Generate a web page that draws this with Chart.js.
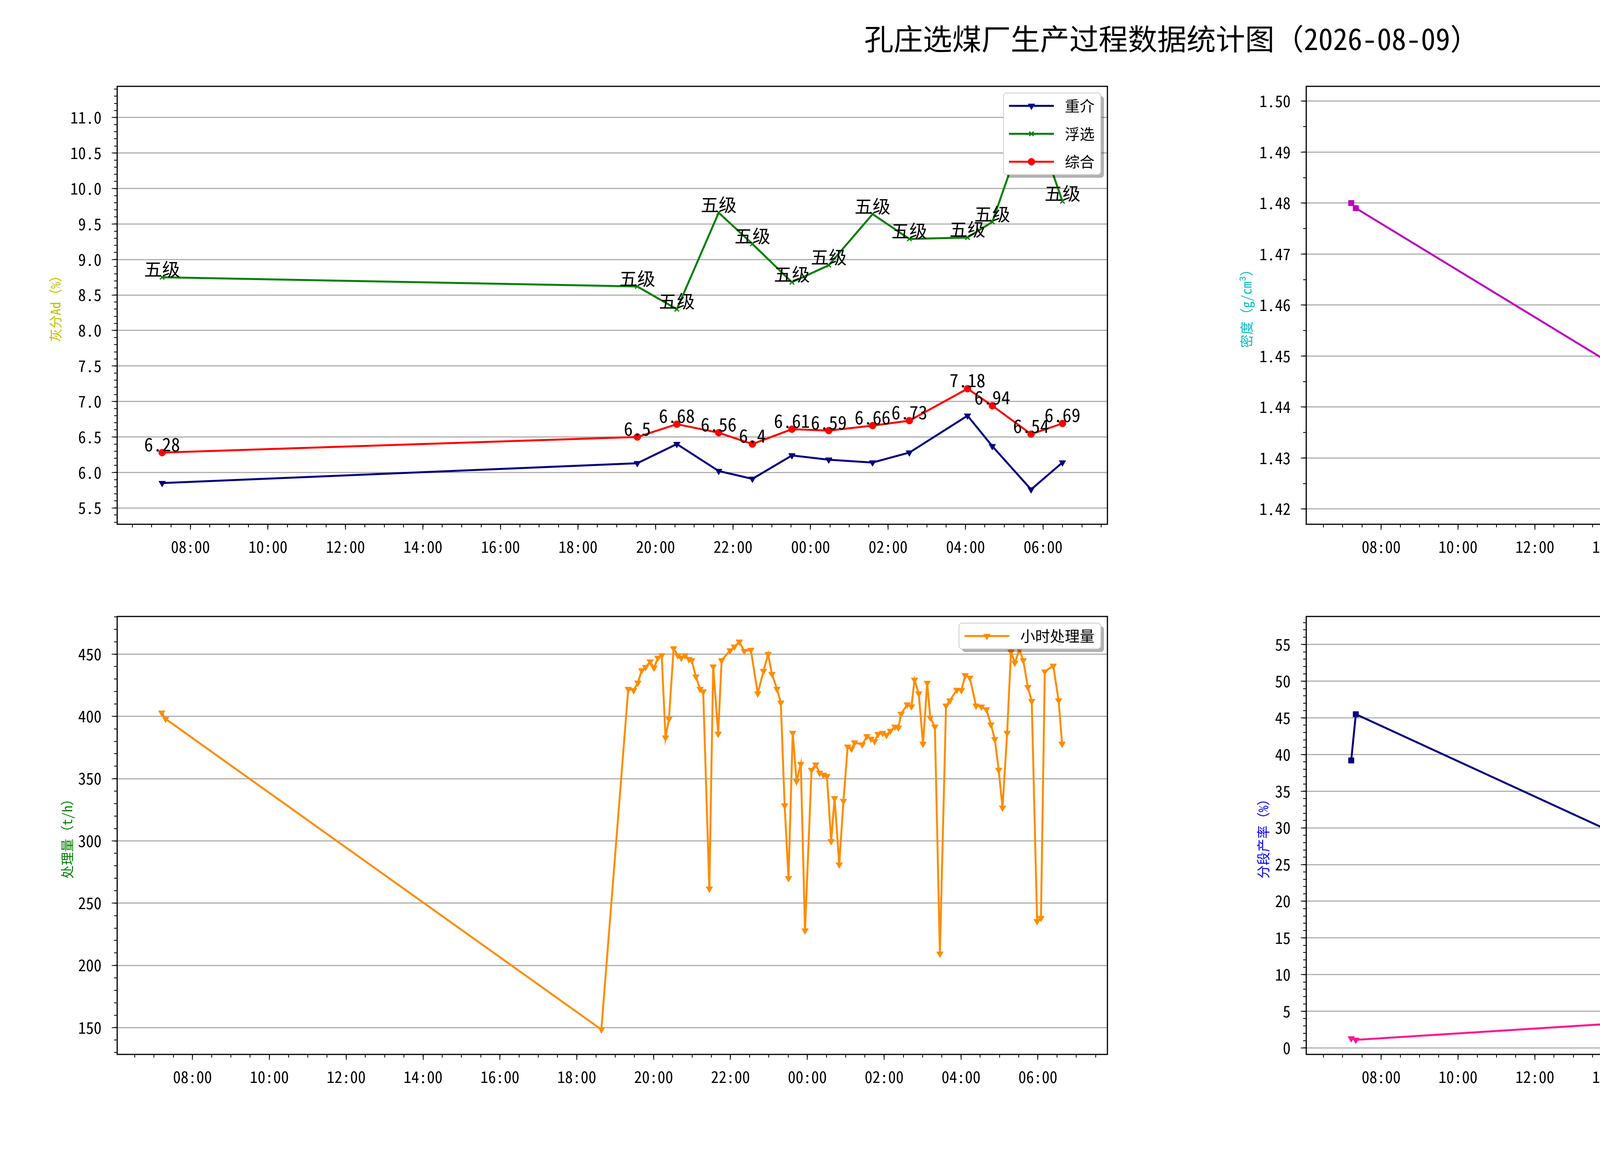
<!DOCTYPE html>
<html lang="zh-CN">
<head>
<meta charset="utf-8">
<title>孔庄选煤厂生产过程数据统计图</title>
<script src="https://cdn.jsdelivr.net/npm/chart.js@4.4.1/dist/chart.umd.min.js"></script>
<style>
  html, body { margin: 0; padding: 0; background: #fff; }
  body {
    width: 6000px; height: 3000px; position: relative; overflow: hidden;
    font-family: "Noto Sans Mono CJK SC", "Noto Sans CJK SC", "Noto Sans", sans-serif;
    color: #000;
  }
  #title { position: absolute; left: 0; top: 50px; width: 6000px; text-align: center; font-size: 75px; line-height: 92px; }
  #credit { position: absolute; right: 121px; top: 2772px; font-size: 40px; line-height: 50px; }
  canvas { position: absolute; }
</style>
</head>
<body>
<div id="title">孔庄选煤厂生产过程数据统计图（2026-08-09）</div>
<canvas id="chart-ash"></canvas>
<canvas id="chart-density"></canvas>
<canvas id="chart-throughput"></canvas>
<canvas id="chart-yield"></canvas>
<div id="credit">Designed by ZQ</div>

<script>
const FONT = '"Noto Sans Mono CJK SC", "Noto Sans CJK SC", "Noto Sans", sans-serif';

// 横轴：小时（24 以后为次日）
const hourTicks = [8, 10, 12, 14, 16, 18, 20, 22, 24, 26, 28, 30];
const hourTickLabels = ['08:00', '10:00', '12:00', '14:00', '16:00', '18:00', '20:00', '22:00', '00:00', '02:00', '04:00', '06:00'];

// 灰分 Ad(%)
const ashHours = [7.27, 19.53, 20.55, 21.63, 22.50, 23.52, 24.47, 25.60, 26.55, 28.05, 28.69, 29.69, 30.50];
const ashHeavy = [5.85, 6.13, 6.40, 6.02, 5.91, 6.24, 6.18, 6.14, 6.28, 6.80, 6.37, 5.76, 6.14];
const ashFlot  = [8.75, 8.62, 8.30, 9.66, 9.22, 8.68, 8.92, 9.64, 9.29, 9.31, 9.53, 11.10, 9.82];
const ashTotal = [6.28, 6.5, 6.68, 6.56, 6.4, 6.61, 6.59, 6.66, 6.73, 7.18, 6.94, 6.54, 6.69];
const ashGrade = ['五级', '五级', '五级', '五级', '五级', '五级', '五级', '五级', '五级', '五级', '五级', '五级', '五级'];
const ashTicks = [5.5, 6.0, 6.5, 7.0, 7.5, 8.0, 8.5, 9.0, 9.5, 10.0, 10.5, 11.0];

// 331旋流器密度
const densityHours = [
  7.22, 7.34, 18.67, 19.36, 19.51, 19.61, 19.71, 19.82, 19.92, 20.02,
  20.12, 20.22, 20.33, 20.43, 20.53, 20.63, 20.74, 20.85, 20.99, 21.12,
  21.29, 21.45, 21.57, 21.69, 21.80, 22.02, 22.14, 22.24, 22.36, 22.54,
  22.72, 22.87, 23.00, 23.10, 23.23, 23.33, 23.43, 23.53, 23.63, 23.73,
  23.83, 23.93, 24.14, 24.24, 24.37, 24.53, 24.64, 24.74, 24.83, 24.95,
  25.06, 25.16, 25.26, 25.45, 25.57, 25.67, 25.77, 25.88, 25.98, 26.08,
  26.19, 26.28, 26.38, 26.49, 26.60, 26.71, 26.81, 26.91, 27.03, 27.13,
  27.23, 27.35, 27.47, 27.63, 27.74, 27.92, 28.03, 28.12, 28.28, 28.41,
  28.55, 28.68, 28.79, 28.89, 28.99, 29.09, 29.20, 29.31, 29.42, 29.52,
  29.63, 29.75, 29.86, 29.98, 30.09, 30.20, 30.43, 30.54, 30.66
];
const densityValues = [
  1.480, 1.479, 1.427, 1.492, 1.490, 1.487, 1.490, 1.489, 1.491, 1.492,
  1.491, 1.490, 1.490, 1.488, 1.492, 1.489, 1.488, 1.491, 1.491, 1.491,
  1.488, 1.492, 1.490, 1.493, 1.490, 1.488, 1.487, 1.484, 1.490, 1.487,
  1.484, 1.489, 1.490, 1.490, 1.489, 1.489, 1.476, 1.482, 1.477, 1.480,
  1.479, 1.479, 1.479, 1.479, 1.479, 1.482, 1.480, 1.480, 1.482, 1.479,
  1.482, 1.478, 1.482, 1.480, 1.480, 1.481, 1.479, 1.482, 1.481, 1.481,
  1.479, 1.478, 1.480, 1.479, 1.479, 1.482, 1.477, 1.481, 1.482, 1.476,
  1.478, 1.482, 1.477, 1.480, 1.479, 1.477, 1.480, 1.476, 1.482, 1.477,
  1.479, 1.479, 1.477, 1.479, 1.477, 1.482, 1.482, 1.481, 1.482, 1.472,
  1.482, 1.482, 1.479, 1.477, 1.479, 1.479, 1.479, 1.481, 1.479
];
const densityTicks = [1.42, 1.43, 1.44, 1.45, 1.46, 1.47, 1.48, 1.49, 1.50];

// 小时处理量 (t/h)
const throughputHours = [
  7.20, 7.30, 18.64, 19.34, 19.48, 19.59, 19.69, 19.79, 19.91, 20.01,
  20.11, 20.21, 20.31, 20.40, 20.52, 20.63, 20.72, 20.82, 20.92, 20.99,
  21.10, 21.21, 21.29, 21.45, 21.55, 21.68, 21.77, 21.99, 22.10, 22.23,
  22.36, 22.53, 22.71, 22.86, 22.98, 23.08, 23.21, 23.31, 23.41, 23.51,
  23.62, 23.72, 23.83, 23.94, 24.11, 24.22, 24.32, 24.42, 24.51, 24.62,
  24.71, 24.83, 24.94, 25.05, 25.15, 25.23, 25.43, 25.55, 25.66, 25.75,
  25.84, 25.96, 26.06, 26.16, 26.28, 26.37, 26.44, 26.60, 26.71, 26.79,
  26.90, 27.01, 27.12, 27.20, 27.32, 27.45, 27.61, 27.71, 27.89, 28.01,
  28.11, 28.23, 28.39, 28.53, 28.66, 28.78, 28.88, 28.98, 29.08, 29.20,
  29.30, 29.40, 29.52, 29.62, 29.74, 29.84, 29.98, 30.08, 30.18, 30.40,
  30.54, 30.63
];
const throughputValues = [
  403, 398, 148.5, 422, 421, 427, 437, 439.5, 444, 439,
  447, 449, 383, 398, 454.6, 449, 447, 449, 446, 445,
  432, 422, 420, 261.6, 440, 386, 445, 453, 456, 460,
  452.5, 453.4, 418.4, 436.5, 450, 434, 422, 411, 328.4, 270,
  386.7, 348, 361.7, 228, 357, 361.3, 354.6, 353, 352, 299.7,
  334.3, 281, 332, 375.7, 374, 379, 377.4, 384, 382, 380,
  385.8, 386.7, 385, 388.3, 391.7, 391, 402, 409.5, 408, 429.4,
  418.4, 378, 426.9, 399, 391.7, 209.3, 408.6, 412.8, 421.3, 421,
  433, 431, 408.6, 407.8, 405.6, 393.4, 381.6, 357, 326.7, 386.7,
  452, 443, 454, 445, 423.5, 412.3, 235.5, 238, 436, 440.7,
  412.8, 378
];
const throughputTicks = [150, 200, 250, 300, 350, 400, 450];

// 分段产率 (%)
const yieldHours = [
  7.22, 7.34, 18.67, 19.36, 19.46, 19.59, 19.69, 19.81, 19.91, 20.00,
  20.12, 20.24, 20.32, 20.44, 20.52, 20.64, 20.73, 20.85, 20.98, 21.12,
  21.30, 21.46, 21.56, 21.69, 21.80, 22.02, 22.13, 22.25, 22.36, 22.54,
  22.73, 22.86, 23.00, 23.08, 23.22, 23.32, 23.42, 23.52, 23.64, 23.73,
  23.84, 23.95, 24.13, 24.23, 24.42, 24.54, 24.62, 24.73, 24.83, 24.95,
  25.03, 25.15, 25.25, 25.45, 25.59, 25.67, 25.78, 25.89, 25.98, 26.06,
  26.18, 26.27, 26.37, 26.47, 26.59, 26.69, 26.79, 26.91, 27.03, 27.13,
  27.20, 27.27, 27.35, 27.47, 27.61, 27.76, 27.93, 28.03, 28.11, 28.27,
  28.40, 28.54, 28.67, 28.81, 28.89, 28.99, 29.09, 29.18, 29.30, 29.42,
  29.52, 29.64, 29.76, 29.86, 29.99, 30.09, 30.20, 30.42, 30.57, 30.67
];
const yieldMiddling = [
  1.3, 1.1, 4.85, 1.4, 1.1, 1.1, 1.3, 1.5, 1.9, 2.3,
  1.7, 2.1, 2.3, 2.1, 2.1, 2.0, 2.0, 2.1, 2.2, 2.4,
  2.4, 3.5, 1.4, 1.5, 1.6, 1.5, 1.7, 2.1, 2.2, 1.8,
  1.9, 2.0, 1.8, 1.8, 1.8, 2.1, 2.6, 3.3, 1.8, 1.5,
  1.9, 3.1, 1.3, 1.3, 2.4, 3.3, 2.9, 2.3, 2.1, 1.4,
  1.3, 1.7, 1.1, 1.4, 2.3, 2.3, 2.1, 2.1, 2.1, 2.2,
  1.9, 1.9, 1.9, 2.0, 2.0, 1.7, 1.4, 1.4, 1.4, 1.5,
  1.7, 1.8, 1.7, 3.1, 1.4, 1.6, 1.7, 1.5, 1.3, 1.3,
  1.3, 1.5, 1.6, 1.5, 1.3, 1.3, 1.1, 1.1, 1.3, 1.6,
  1.7, 1.7, 2.3, 1.9, 3.2, 3.2, 1.1, 1.1, 1.3, 1.3
];
const yieldGangue = [
  39.2, 45.5, 18.2, 22.2, 22.5, 21.7, 21.8, 22.7, 22.7, 24.3,
  24.7, 26.0, 32.0, 31.3, 26.7, 27.7, 28.9, 29.3, 29.8, 32.1,
  32.9, 43.2, 23.3, 28.4, 26.8, 26.4, 25.7, 25.3, 26.3, 23.8,
  26.9, 27.0, 26.7, 29.0, 31.0, 35.2, 43.5, 42.6, 29.3, 32.6,
  30.1, 51.4, 32.9, 29.8, 31.4, 30.3, 35.5, 28.8, 35.3, 26.3,
  28.0, 29.0, 27.8, 28.4, 27.7, 26.7, 26.0, 26.2, 26.7, 27.1,
  27.5, 27.2, 27.7, 27.3, 26.8, 26.7, 24.8, 27.8, 30.3, 26.9,
  28.1, 28.0, 29.3, 56.9, 30.4, 30.1, 28.1, 27.1, 24.9, 25.3,
  24.5, 24.2, 24.2, 24.3, 24.9, 26.6, 29.8, 25.4, 25.1, 25.0,
  25.4, 25.4, 25.9, 29.8, 50.5, 40.6, 21.7, 26.8, 27.8, 29.2
];
const yieldTicks = [0, 5, 10, 15, 20, 25, 30, 35, 40, 45, 50, 55];

// 版面（像素）
const panels = {
  ash:        { left: 118,  top: 171,  plotLeft: 300,  plotRight: 2835, plotTop: 211,  plotBottom: 1342 },
  density:    { left: 3167, top: 171,  plotLeft: 3344, plotRight: 5879, plotTop: 211,  plotBottom: 1342 },
  throughput: { left: 148,  top: 1528, plotLeft: 300,  plotRight: 2835, plotTop: 1568, plotBottom: 2699 },
  yield:      { left: 3210, top: 1528, plotLeft: 3344, plotRight: 5879, plotTop: 1568, plotBottom: 2699 }
};
const PAD_RIGHT = 30;
const X_AXIS_H = 90;

const toPoints = (xs, ys) => xs.map((x, i) => ({ x: x, y: ys[i] }));

// 外框 + 次刻度
const framePlugin = {
  id: 'frame',
  afterDatasetsDraw(chart, args, opts) {
    const { ctx, chartArea: a, scales } = chart;
    const xs = scales.x, ys = scales.y;
    ctx.save();
    ctx.strokeStyle = '#000';
    ctx.lineWidth = 2;
    ctx.beginPath();
    for (let k = Math.ceil(xs.min / opts.xMinor - 1e-6); k * opts.xMinor <= xs.max + 1e-9; k++) {
      const px = Math.round(xs.getPixelForValue(k * opts.xMinor));
      ctx.moveTo(px, a.bottom);
      ctx.lineTo(px, a.bottom + 8);
    }
    for (let k = Math.ceil(ys.min / opts.yMinor - 1e-6); k * opts.yMinor <= ys.max + 1e-9; k++) {
      const py = Math.round(ys.getPixelForValue(k * opts.yMinor));
      ctx.moveTo(a.left - 8, py);
      ctx.lineTo(a.left, py);
    }
    ctx.stroke();
    ctx.lineWidth = 3;
    ctx.strokeRect(a.left, a.top, a.right - a.left, a.bottom - a.top);
    ctx.restore();
  }
};

// 数据点上方的文字
const pointTextPlugin = {
  id: 'pointText',
  afterDatasetsDraw(chart) {
    const ctx = chart.ctx;
    ctx.save();
    ctx.font = '46px ' + FONT;
    ctx.fillStyle = '#000';
    ctx.textAlign = 'center';
    ctx.textBaseline = 'bottom';
    chart.data.datasets.forEach((ds, i) => {
      if (!ds.pointTexts) return;
      chart.getDatasetMeta(i).data.forEach((pt, j) => {
        ctx.fillText(ds.pointTexts[j], pt.x, pt.y + 2);
      });
    });
    ctx.restore();
  }
};

// 右上角图例（带阴影的框）
const boxLegendPlugin = {
  id: 'boxLegend',
  afterDraw(chart) {
    const { ctx, chartArea: a } = chart;
    const sets = chart.data.datasets;
    ctx.save();
    ctx.font = '38px ' + FONT;
    const textW = Math.max(...sets.map(d => ctx.measureText(d.label).width));
    const w = 14 + 115 + 28 + textW + 16;
    const h = 66 + 71.5 * (sets.length - 1);
    const x0 = a.right - 17 - w;
    const y0 = a.top + 17;

    ctx.fillStyle = 'rgba(0, 0, 0, 0.3)';
    ctx.beginPath();
    ctx.roundRect(x0 + 8, y0 + 8, w, h, 8);
    ctx.fill();

    ctx.fillStyle = '#ffffff';
    ctx.strokeStyle = '#cccccc';
    ctx.lineWidth = 2;
    ctx.beginPath();
    ctx.roundRect(x0, y0, w, h, 8);
    ctx.fill();
    ctx.stroke();

    sets.forEach((d, i) => {
      const cy = y0 + 33 + i * 71.5;
      ctx.strokeStyle = d.borderColor;
      ctx.lineWidth = d.borderWidth;
      ctx.beginPath();
      ctx.moveTo(x0 + 14, cy);
      ctx.lineTo(x0 + 129, cy);
      ctx.stroke();

      ctx.fillStyle = d.borderColor;
      ctx.lineWidth = d.pointBorderWidth;
      Chart.helpers.drawPoint(ctx, {
        pointStyle: d.pointStyle,
        rotation: d.pointRotation || 0,
        radius: d.pointRadius,
        borderWidth: d.pointBorderWidth
      }, x0 + 71.5, cy);

      ctx.fillStyle = '#000';
      ctx.textAlign = 'left';
      ctx.textBaseline = 'middle';
      ctx.fillText(d.label, x0 + 157, cy);
    });
    ctx.restore();
  }
};

function series(label, xs, ys, color, marker, extra) {
  return Object.assign({
    label: label,
    data: toPoints(xs, ys),
    borderColor: color,
    backgroundColor: color,
    pointBackgroundColor: color,
    pointBorderColor: color,
    borderWidth: 5,
    pointStyle: marker.style,
    pointRotation: marker.rotation || 0,
    pointRadius: marker.radius,
    pointBorderWidth: marker.border || 1,
    tension: 0,
    fill: false
  }, extra || {});
}

const MARK = {
  tri:    { style: 'triangle', rotation: 180, radius: 10 },
  cross:  { style: 'crossRot', radius: 8, border: 3 },
  circle: { style: 'circle', radius: 9 },
  square: { style: 'rect', radius: 10 }
};

function createPanel(id, box, cfg) {
  const canvas = document.getElementById(id);
  const w = box.plotRight + PAD_RIGHT - box.left;
  const h = box.plotBottom + X_AXIS_H - box.top;
  canvas.width = w;
  canvas.height = h;
  canvas.style.left = box.left + 'px';
  canvas.style.top = box.top + 'px';
  canvas.style.width = w + 'px';
  canvas.style.height = h + 'px';

  const tickFont = { family: FONT, size: 40 };

  return new Chart(canvas.getContext('2d'), {
    type: 'line',
    data: { datasets: cfg.datasets },
    options: {
      responsive: false,
      animation: false,
      devicePixelRatio: 1,
      events: [],
      layout: { padding: { top: box.plotTop - box.top, right: PAD_RIGHT, left: 0, bottom: 0 } },
      scales: {
        x: {
          type: 'linear',
          min: cfg.xMin,
          max: cfg.xMax,
          afterBuildTicks: s => { s.ticks = hourTicks.map(v => ({ value: v })); },
          afterFit: s => { s.height = X_AXIS_H; },
          ticks: {
            font: tickFont,
            color: '#000',
            padding: 20,
            maxRotation: 0,
            autoSkip: false,
            callback: (v, i) => hourTickLabels[i]
          },
          grid: { drawOnChartArea: false, drawTicks: true, tickLength: 14, tickColor: '#000', tickWidth: 2 },
          border: { display: false }
        },
        y: {
          type: 'linear',
          min: cfg.yMin,
          max: cfg.yMax,
          afterBuildTicks: s => { s.ticks = cfg.yTicks.map(v => ({ value: v })); },
          afterFit: s => { s.width = box.plotLeft - box.left; },
          ticks: {
            font: tickFont,
            color: '#000',
            padding: 26,
            autoSkip: false,
            callback: v => v.toFixed(cfg.digits)
          },
          grid: { color: '#b0b0b0', lineWidth: 3, tickLength: 14, tickColor: '#000', tickWidth: 2 },
          border: { display: false },
          title: {
            display: true,
            text: cfg.yTitle,
            color: cfg.yTitleColor,
            font: { family: FONT, size: 34 },
            padding: { top: 4, bottom: 4 }
          }
        }
      },
      plugins: {
        legend: { display: false },
        tooltip: { enabled: false },
        frame: { xMinor: 0.5, yMinor: cfg.yMinor }
      }
    },
    plugins: [framePlugin, pointTextPlugin, boxLegendPlugin]
  });
}

createPanel('chart-ash', panels.ash, {
  xMin: 6.11, xMax: 31.66,
  yMin: 5.27, yMax: 11.44, yTicks: ashTicks, digits: 1, yMinor: 0.1,
  yTitle: '灰分Ad（%）', yTitleColor: '#bfbf00',
  datasets: [
    series('重介', ashHours, ashHeavy, '#000080', MARK.tri),
    series('浮选', ashHours, ashFlot, '#008000', MARK.cross, { pointTexts: ashGrade }),
    series('综合', ashHours, ashTotal, '#ff0000', MARK.circle, { pointTexts: ashTotal.map(String) })
  ]
});

createPanel('chart-density', panels.density, {
  xMin: 6.05, xMax: 31.82,
  yMin: 1.417, yMax: 1.5029, yTicks: densityTicks, digits: 2, yMinor: 0.005,
  yTitle: '密度（g/cm³）', yTitleColor: '#00bfbf',
  datasets: [
    series('331旋流器', densityHours, densityValues, '#bf00bf', MARK.square)
  ]
});

createPanel('chart-throughput', panels.throughput, {
  xMin: 6.04, xMax: 31.81,
  yMin: 128.5, yMax: 480.3, yTicks: throughputTicks, digits: 0, yMinor: 10,
  yTitle: '处理量（t/h）', yTitleColor: '#008000',
  datasets: [
    series('小时处理量', throughputHours, throughputValues, '#ff8c00', MARK.tri)
  ]
});

createPanel('chart-yield', panels.yield, {
  xMin: 6.05, xMax: 31.82,
  yMin: -0.88, yMax: 58.83, yTicks: yieldTicks, digits: 0, yMinor: 1,
  yTitle: '分段产率（%）', yTitleColor: '#0000ff',
  datasets: [
    series('洗混煤', yieldHours, yieldMiddling, '#ff1493', MARK.tri),
    series('矸石', yieldHours, yieldGangue, '#000080', MARK.square)
  ]
});
</script>
</body>
</html>
